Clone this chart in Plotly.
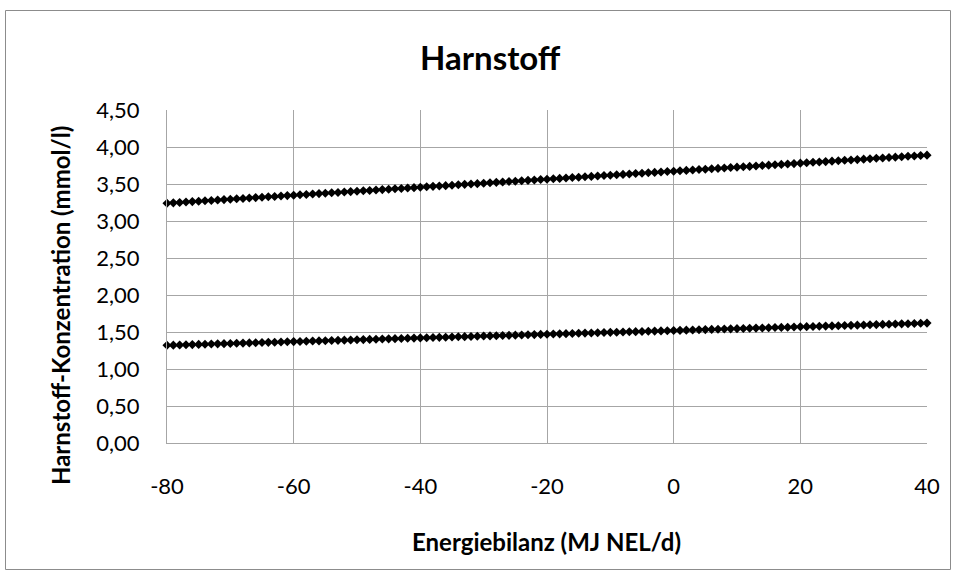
import plotly.graph_objects as go

x_vals = list(range(-80, 41))

upper = [3.240, 3.245, 3.251, 3.256, 3.262, 3.267, 3.273, 3.278, 3.283, 3.289,
         3.294, 3.300, 3.305, 3.310, 3.316, 3.321, 3.327, 3.332, 3.338, 3.343,
         3.348, 3.354, 3.359, 3.365, 3.370, 3.375, 3.381, 3.386, 3.392, 3.397,
         3.403, 3.408, 3.413, 3.419, 3.424, 3.430, 3.435, 3.440, 3.446, 3.451,
         3.457, 3.462, 3.468, 3.473, 3.478, 3.484, 3.489, 3.495, 3.500, 3.505,
         3.511, 3.516, 3.522, 3.527, 3.533, 3.538, 3.543, 3.549, 3.554, 3.560,
         3.565, 3.570, 3.576, 3.581, 3.587, 3.592, 3.598, 3.603, 3.608, 3.614,
         3.619, 3.625, 3.630, 3.635, 3.641, 3.646, 3.652, 3.657, 3.663, 3.668,
         3.673, 3.679, 3.684, 3.690, 3.695, 3.700, 3.706, 3.711, 3.717, 3.722,
         3.728, 3.733, 3.738, 3.744, 3.749, 3.755, 3.760, 3.765, 3.771, 3.776,
         3.782, 3.787, 3.793, 3.798, 3.803, 3.809, 3.814, 3.820, 3.825, 3.830,
         3.836, 3.841, 3.847, 3.852, 3.858, 3.863, 3.868, 3.874, 3.879, 3.885,
         3.890]

lower = [1.3200, 1.3225, 1.3250, 1.3275, 1.3300, 1.3325, 1.3350, 1.3375,
         1.3400, 1.3425, 1.3450, 1.3475, 1.3500, 1.3525, 1.3550, 1.3575,
         1.3600, 1.3625, 1.3650, 1.3675, 1.3700, 1.3725, 1.3750, 1.3775,
         1.3800, 1.3825, 1.3850, 1.3875, 1.3900, 1.3925, 1.3950, 1.3975,
         1.4000, 1.4025, 1.4050, 1.4075, 1.4100, 1.4125, 1.4150, 1.4175,
         1.4200, 1.4225, 1.4250, 1.4275, 1.4300, 1.4325, 1.4350, 1.4375,
         1.4400, 1.4425, 1.4450, 1.4475, 1.4500, 1.4525, 1.4550, 1.4575,
         1.4600, 1.4625, 1.4650, 1.4675, 1.4700, 1.4725, 1.4750, 1.4775,
         1.4800, 1.4825, 1.4850, 1.4875, 1.4900, 1.4925, 1.4950, 1.4975,
         1.5000, 1.5025, 1.5050, 1.5075, 1.5100, 1.5125, 1.5150, 1.5175,
         1.5200, 1.5225, 1.5250, 1.5275, 1.5300, 1.5325, 1.5350, 1.5375,
         1.5400, 1.5425, 1.5450, 1.5475, 1.5500, 1.5525, 1.5550, 1.5575,
         1.5600, 1.5625, 1.5650, 1.5675, 1.5700, 1.5725, 1.5750, 1.5775,
         1.5800, 1.5825, 1.5850, 1.5875, 1.5900, 1.5925, 1.5950, 1.5975,
         1.6000, 1.6025, 1.6050, 1.6075, 1.6100, 1.6125, 1.6150, 1.6175,
         1.6200]

x_ticks = [-80, -60, -40, -20, 0, 20, 40]
x_tick_labels = ["-80", "-60", "-40", "-20", "0", "20", "40"]
y_ticks = [0.0, 0.5, 1.0, 1.5, 2.0, 2.5, 3.0, 3.5, 4.0, 4.5]

W, H = 955, 576
L, R, T, B = 167, 28, 110, 133
pw, ph = W - L - R, H - T - B

def px_x(p):
    return (p - L) / pw

def px_y(p):
    return (H - B - p) / ph

FONT = "Lato"
marker = dict(symbol="diamond", size=7, color="black", line=dict(width=0))

fig = go.Figure()
for ys in (upper, lower):
    fig.add_trace(go.Scatter(x=x_vals, y=ys, mode="markers", marker=marker,
                             cliponaxis=False, showlegend=False))

axis_common = dict(showgrid=True, gridcolor="#a6a6a6", gridwidth=1,
                   showline=True, linecolor="#a6a6a6", linewidth=1,
                   zeroline=False, ticks="",
                   tickfont=dict(family=FONT, size=22, color="black"))

fig.update_xaxes(range=[-80, 40], tickvals=x_ticks, ticktext=x_tick_labels,
                 ticklabelstandoff=24, **axis_common)
fig.update_yaxes(range=[0, 4.5], tickvals=y_ticks, tickformat=".2f",
                 ticklabelstandoff=22, **axis_common)

fig.update_layout(
    width=W, height=H,
    margin=dict(l=L, r=R, t=T, b=B, autoexpand=False),
    paper_bgcolor="white", plot_bgcolor="white",
    separators=", ",
    font=dict(family=FONT, color="black"),
    annotations=[
        dict(text="<b>Harnstoff</b>", x=px_x(490.5), y=px_y(57), xref="paper",
             yref="paper", showarrow=False, xanchor="center", yanchor="middle",
             font=dict(family=FONT, size=33, color="black")),
        dict(text="<b>Energiebilanz (MJ NEL/d)</b>", x=px_x(546.5), y=px_y(541),
             xref="paper", yref="paper", showarrow=False, xanchor="center",
             yanchor="middle", font=dict(family=FONT, size=24, color="black")),
        dict(text="<b>Harnstoff-Konzentration (mmol/l)</b>", x=px_x(60),
             y=px_y(306), xref="paper", yref="paper", showarrow=False,
             textangle=-90, xanchor="center", yanchor="middle",
             font=dict(family=FONT, size=24, color="black")),
    ],
    shapes=[
        dict(type="rect", xref="paper", yref="paper",
             x0=px_x(5.5), x1=px_x(950.5), y0=px_y(569.5), y1=px_y(10.5),
             line=dict(color="#8c8c8c", width=1), fillcolor="rgba(0,0,0,0)",
             layer="below"),
    ],
)

fig.write_html("out.html",
               config={"displayModeBar": False, "staticPlot": True},
               post_script="document.body.style.margin='0';"
                           "document.body.style.overflow='hidden';")
